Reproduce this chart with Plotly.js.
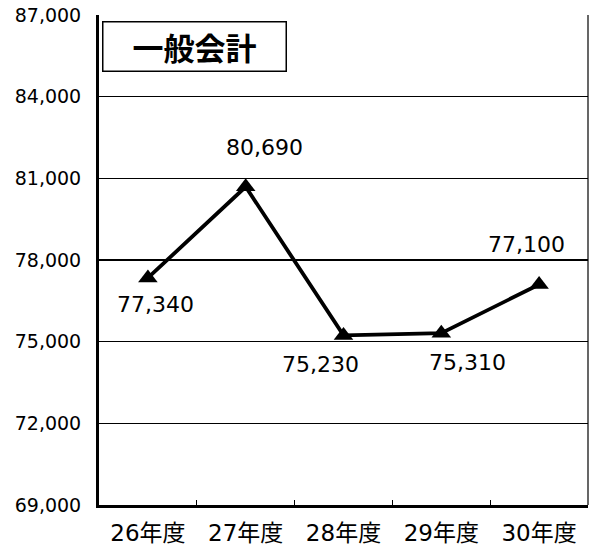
<!DOCTYPE html>
<html>
<head>
<meta charset="utf-8">
<script src="https://cdn.plot.ly/plotly-3.0.1.min.js"></script>
<style>html,body{margin:0;padding:0;background:#fff;}#chart{width:589px;height:545px;}</style>
</head>
<body>
<div id="chart"></div>
<script>
const categories = ["26年度", "27年度", "28年度", "29年度", "30年度"];
const values = [77340, 80690, 75230, 75310, 77100];
const valueLabels = ["77,340", "80,690", "75,230", "75,310", "77,100"];
const yTicks = [69000, 72000, 75000, 78000, 81000, 84000, 87000];
const yTickLabels = ["69,000", "72,000", "75,000", "78,000", "81,000", "84,000", "87,000"];
const chartTitle = "一般会計";

const FONT = "DejaVu Sans, Noto Sans CJK JP, sans-serif";
const CJK = "Noto Sans CJK JP, sans-serif";
const labelOffsets = [[8, -27], [19, 39], [-23, -29], [26, -29], [-13, 40]];

const trace = {
  x: categories,
  y: values,
  type: "scatter",
  mode: "lines+markers",
  line: {color: "#000", width: 3.8},
  marker: {symbol: "triangle-up", size: 17, color: "#000"},
  hoverinfo: "skip",
  cliponaxis: false
};

const annotations = values.map((v, i) => ({
  x: categories[i], y: v, xref: "x", yref: "y",
  text: valueLabels[i], showarrow: false,
  xshift: labelOffsets[i][0], yshift: labelOffsets[i][1],
  font: {family: FONT, size: 22, color: "#000"}
}));

annotations.push({
  xref: "paper", yref: "paper",
  x: 3/489, y: 1 - 6/490, xanchor: "left", yanchor: "top",
  text: chartTitle, showarrow: false,
  width: 180, height: 46,
  bgcolor: "#fff", bordercolor: "#000", borderwidth: 1.5, borderpad: 1,
  font: {family: CJK, size: 31, color: "#000", weight: "bold"}
});

const layout = {
  width: 589, height: 545,
  margin: {l: 99, r: 1, t: 15, b: 40},
  paper_bgcolor: "#fff", plot_bgcolor: "#fff",
  showlegend: false,
  font: {family: FONT, color: "#000"},
  xaxis: {
    type: "category",
    range: [-0.5, 4.5],
    showgrid: false,
    showline: true, linecolor: "#000", linewidth: 2.5,
    ticks: "inside", ticklen: 5, tickcolor: "#000", tickwidth: 1.2,
    tickson: "boundaries",
    tickfont: {family: FONT, size: 23, color: "#000"},
    ticklabelstandoff: 6,
    zeroline: false,
    fixedrange: true
  },
  yaxis: {
    range: [69000, 87000],
    tickvals: yTicks, ticktext: yTickLabels,
    showgrid: true, gridcolor: "#000", gridwidth: 1.5,
    showline: true, linecolor: "#000", linewidth: 3,
    ticks: "",
    ticklabelstandoff: 11,
    tickfont: {family: FONT, size: 19, color: "#000"},
    zeroline: false,
    fixedrange: true
  },
  shapes: [
    {type: "line", xref: "paper", yref: "paper", x0: 1, x1: 1, y0: 0, y1: 1,
     line: {color: "#000", width: 1.2}}
  ],
  annotations: annotations
};

Plotly.newPlot("chart", [trace], layout, {displayModeBar: false, staticPlot: true});
</script>
</body>
</html>
